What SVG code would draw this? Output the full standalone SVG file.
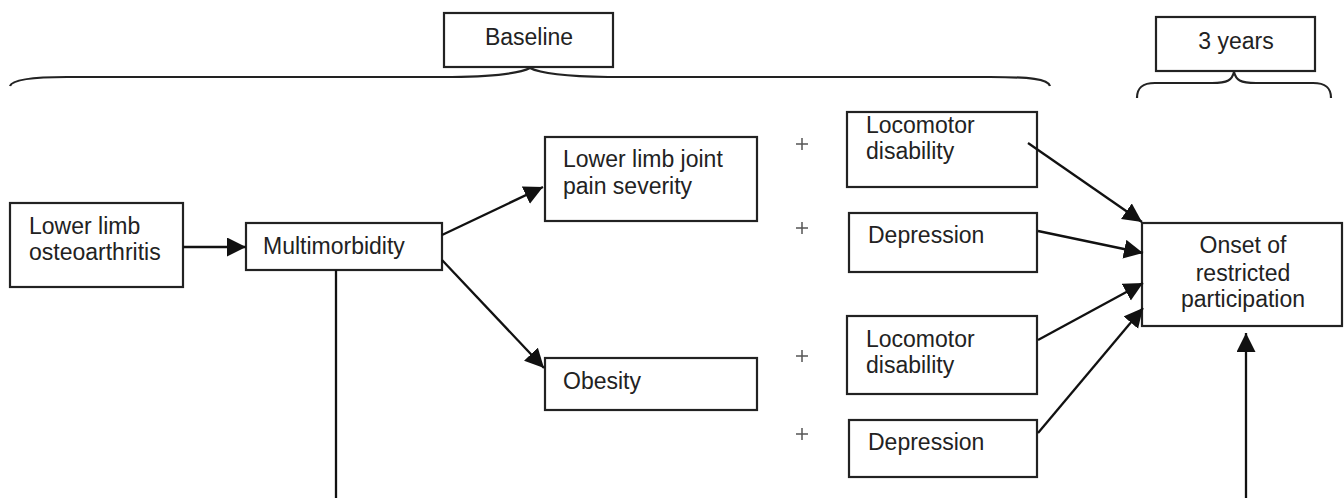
<svg xmlns="http://www.w3.org/2000/svg" width="1344" height="498" viewBox="0 0 1344 498">
<style>
  .box { fill: #fff; stroke: #222; stroke-width: 2.2; }
  .t { font-family: "Liberation Sans", Arial, sans-serif; font-size: 23px; fill: #222; }
  .c { text-anchor: middle; }
  .ln { stroke: #111; stroke-width: 2.3; fill: none; }
  .br { stroke: #222; stroke-width: 2.2; fill: none; }
  .plus { stroke: #555; stroke-width: 1.5; }
</style>
<defs>
  <marker id="ah" markerUnits="userSpaceOnUse" markerWidth="21" markerHeight="20" refX="19" refY="9.5" orient="auto">
    <path d="M0,0 L19,9.5 L0,19 z" fill="#111"/>
  </marker>
</defs>
<rect width="1344" height="498" fill="#fff"/>

<g id="baseline">
  <rect class="box" x="444" y="13" width="169" height="54"/>
  <text class="t c" x="529" y="45">Baseline</text>
  <path class="br" d="M10,86 C12,80 30,77 67,77 L452,77 Q515,76 530,68 Q545,76 608,77 L990,77 C1030,77 1048,79 1050,86"/>
</g>

<g id="three-years">
  <rect class="box" x="1156" y="17" width="159" height="54"/>
  <text class="t c" x="1236" y="49">3 years</text>
  <path class="br" d="M1137,98 C1137,88 1142,83 1155,83 L1212,83 C1228,83 1232,80 1234,72 C1236,80 1240,83 1256,83 L1313,83 C1326,83 1331,88 1331,98"/>
</g>

<g id="oa">
  <rect class="box" x="10" y="203" width="173" height="84"/>
  <text class="t" x="29" y="234">Lower limb</text>
  <text class="t" x="29" y="260">osteoarthritis</text>
</g>

<g id="multimorbidity">
  <rect class="box" x="246" y="223" width="196" height="47"/>
  <text class="t" x="263" y="254">Multimorbidity</text>
</g>

<g id="pain">
  <rect class="box" x="545" y="137" width="212" height="84"/>
  <text class="t" x="563" y="167">Lower limb joint</text>
  <text class="t" x="563" y="194">pain severity</text>
</g>

<g id="obesity">
  <rect class="box" x="545" y="358" width="212" height="52"/>
  <text class="t" x="563" y="389">Obesity</text>
</g>

<g id="plus-signs">
  <path class="plus" d="M796,144 H808 M802,138 V150"/>
  <path class="plus" d="M796,228 H808 M802,222 V234"/>
  <path class="plus" d="M796,356 H808 M802,350 V362"/>
  <path class="plus" d="M796,434 H808 M802,428 V440"/>
</g>

<g id="loco1">
  <rect class="box" x="847" y="112" width="190" height="75"/>
  <text class="t" x="866" y="133">Locomotor</text>
  <text class="t" x="866" y="159">disability</text>
</g>

<g id="dep1">
  <rect class="box" x="849" y="213" width="188" height="59"/>
  <text class="t" x="868" y="243">Depression</text>
</g>

<g id="loco2">
  <rect class="box" x="847" y="316" width="190" height="78"/>
  <text class="t" x="866" y="347">Locomotor</text>
  <text class="t" x="866" y="373">disability</text>
</g>

<g id="dep2">
  <rect class="box" x="849" y="420" width="188" height="57"/>
  <text class="t" x="868" y="450">Depression</text>
</g>

<g id="onset">
  <rect class="box" x="1142" y="223" width="200" height="103"/>
  <text class="t c" x="1243" y="253">Onset of</text>
  <text class="t c" x="1243" y="281">restricted</text>
  <text class="t c" x="1243" y="307">participation</text>
</g>

<g id="connectors">
  <line class="ln" x1="183" y1="247" x2="246" y2="247" marker-end="url(#ah)"/>
  <line class="ln" x1="442" y1="235" x2="543" y2="187" marker-end="url(#ah)"/>
  <line class="ln" x1="442" y1="260" x2="544" y2="368" marker-end="url(#ah)"/>
  <line class="ln" x1="1028" y1="143" x2="1142" y2="222" marker-end="url(#ah)"/>
  <line class="ln" x1="1038" y1="231" x2="1143" y2="253" marker-end="url(#ah)"/>
  <line class="ln" x1="1038" y1="340" x2="1143" y2="283" marker-end="url(#ah)"/>
  <line class="ln" x1="1038" y1="433" x2="1143" y2="308" marker-end="url(#ah)"/>
  <line class="ln" x1="1246" y1="498" x2="1246" y2="333" marker-end="url(#ah)"/>
  <line class="ln" x1="336" y1="270" x2="336" y2="498"/>
</g>
</svg>
